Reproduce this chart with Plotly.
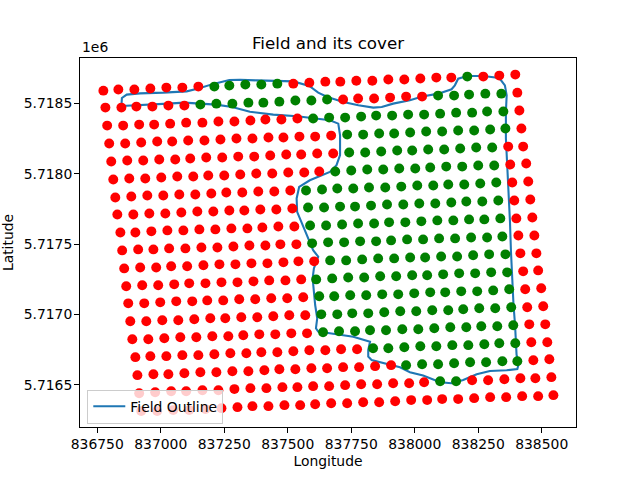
import plotly.graph_objects as go

# Each row of grid cells: longitude, latitude (metres)
lon_rows = [
[836774,836833,836896,836959,837022,837085,837148,837211,837270,837333,837396,837459,837522,837585,837648,837707,837770,837833,837896,837959,838022,838085,838144,838207,838270,838333,838396],
[836782,836845,836904,836967,837030,837093,837156,837219,837282,837345,837404,837467,837530,837593,837655,837718,837777,837840,837903,837966,838029,838092,838155,838214,838278,838341,838404],
[836789,836852,836915,836974,837037,837100,837164,837227,837290,837353,837412,837475,837538,837600,837663,837726,837789,837848,837911,837974,838037,838100,838163,838226,838285,838349,838412],
[836797,836860,836923,836986,837045,837108,837172,837235,837298,837361,837424,837483,837546,837608,837671,837734,837797,837860,837919,837982,838045,838108,838171,838234,838297,838357,838420],
[836805,836868,836931,836994,837057,837116,837179,837242,837305,837368,837431,837494,837553,837616,837679,837742,837805,837868,837931,837990,838053,838116,838179,838242,838305,838368,838427],
[836813,836876,836939,837002,837065,837128,837187,837250,837313,837376,837439,837502,837565,837624,837687,837750,837813,837876,837939,838002,838061,838124,838187,838250,838313,838376,838439],
[836821,836884,836947,837010,837073,837136,837199,837258,837321,837384,837447,837510,837572,837635,837695,837758,837820,837884,837947,838010,838073,838132,838195,838258,838321,838384,838447],
[836829,836892,836955,837018,837081,837144,837207,837270,837329,837392,837455,837518,837580,837643,837706,837765,837828,837891,837955,838018,838081,838144,838203,838266,838329,838392,838455],
[836841,836900,836963,837026,837089,837152,837215,837278,837341,837400,837463,837526,837588,837651,837714,837777,837840,837899,837963,838026,838089,838152,838214,838274,838337,838400,838463],
[836848,836911,836971,837033,837097,837160,837223,837286,837349,837412,837471,837534,837596,837659,837722,837785,837848,837907,837970,838033,838096,838159,838222,838285,838345,838408,838471],
[836856,836919,836982,837041,837104,837168,837231,837294,837357,837420,837483,837542,837604,837667,837730,837793,837856,837919,837982,838041,838104,838167,838230,838293,838357,838416,838479],
[836864,836927,836990,837053,837112,837176,837239,837302,837365,837427,837491,837553,837612,837675,837738,837801,837864,837927,837990,838049,838112,838175,838238,838301,838364,838427,838486],
[836872,836935,836998,837061,837124,837183,837246,837309,837372,837435,837498,837561,837624,837683,837746,837809,837872,837935,837998,838061,838120,838183,838246,838309,838372,838435,838498],
[836880,836943,837006,837069,837132,837195,837254,837317,837380,837443,837506,837569,837632,837695,837754,837817,837880,837943,838006,838069,838132,838191,838254,838317,838380,838443,838506],
[836888,836951,837014,837077,837140,837203,837266,837325,837388,837451,837514,837576,837639,837702,837765,837824,837887,837951,838014,838077,838140,838203,838262,838325,838388,838451,838514],
[836900,836959,837022,837085,837148,837211,837274,837337,837396,837459,837522,837585,837648,837710,837773,837836,837896,837959,838022,838085,838148,838211,838274,838333,838396,838459,838522],
[836908,836971,837030,837093,837156,837219,837282,837345,837408,837467,837530,837593,837655,837718,837781,837844,837907,837966,838029,838092,838155,838218,838281,838345,838404,838467,838530],
[836915,836978,837041,837100,837164,837227,837290,837353,837416,837479,837538,837600,837663,837726,837789,837852,837915,837978,838037,838100,838163,838226,838289,838353,838416,838475,838538],
[836923,836986,837049,837112,837176,837239,837302,837361,837424,837487,837549,837608,837671,837734,837797,837860,837923,837986,838049,838108,838171,838234,838297,838360,838423,838486,838546],
]
lat_rows = [
[5718589,5718597,5718597,5718604,5718611,5718611,5718618,5718618,5718625,5718632,5718632,5718639,5718639,5718646,5718653,5718653,5718660,5718660,5718668,5718668,5718675,5718682,5718682,5718689,5718689,5718696,5718703],
[5718469,5718469,5718476,5718476,5718483,5718483,5718490,5718497,5718497,5718504,5718504,5718511,5718519,5718519,5718526,5718526,5718533,5718533,5718540,5718547,5718547,5718554,5718554,5718561,5718568,5718568,5718575],
[5718341,5718341,5718348,5718348,5718355,5718362,5718362,5718370,5718370,5718377,5718384,5718384,5718391,5718391,5718398,5718398,5718405,5718412,5718412,5718419,5718419,5718426,5718433,5718433,5718441,5718441,5718448],
[5718214,5718214,5718221,5718228,5718228,5718235,5718235,5718242,5718249,5718249,5718256,5718256,5718263,5718263,5718270,5718277,5718277,5718285,5718285,5718292,5718299,5718299,5718306,5718306,5718313,5718320,5718320],
[5718086,5718093,5718093,5718100,5718100,5718107,5718114,5718114,5718121,5718121,5718129,5718136,5718136,5718143,5718143,5718150,5718150,5718157,5718164,5718164,5718171,5718171,5718178,5718185,5718185,5718192,5718192],
[5717958,5717965,5717965,5717972,5717980,5717980,5717987,5717987,5717994,5718001,5718001,5718008,5718008,5718015,5718015,5718022,5718029,5718029,5718036,5718036,5718043,5718050,5718050,5718058,5718058,5718065,5718072],
[5717830,5717838,5717845,5717845,5717852,5717852,5717859,5717866,5717866,5717873,5717873,5717880,5717880,5717887,5717894,5717894,5717901,5717901,5717908,5717916,5717916,5717923,5717923,5717930,5717937,5717937,5717944],
[5717710,5717710,5717717,5717717,5717724,5717731,5717731,5717738,5717738,5717745,5717745,5717752,5717759,5717759,5717766,5717766,5717773,5717781,5717781,5717788,5717788,5717795,5717802,5717802,5717809,5717809,5717816],
[5717582,5717582,5717590,5717597,5717597,5717604,5717604,5717611,5717611,5717618,5717625,5717625,5717632,5717632,5717639,5717646,5717646,5717654,5717654,5717661,5717668,5717668,5717675,5717675,5717682,5717682,5717689],
[5717455,5717462,5717462,5717469,5717469,5717476,5717476,5717483,5717490,5717490,5717498,5717498,5717505,5717512,5717512,5717519,5717519,5717526,5717533,5717533,5717540,5717540,5717547,5717547,5717554,5717561,5717561],
[5717327,5717334,5717334,5717342,5717342,5717349,5717356,5717356,5717363,5717363,5717370,5717377,5717377,5717384,5717384,5717391,5717398,5717398,5717405,5717405,5717412,5717412,5717420,5717427,5717427,5717434,5717434],
[5717200,5717207,5717207,5717214,5717221,5717221,5717228,5717228,5717235,5717242,5717242,5717249,5717249,5717256,5717263,5717263,5717271,5717271,5717278,5717278,5717285,5717292,5717292,5717299,5717299,5717306,5717313],
[5717079,5717079,5717086,5717093,5717093,5717100,5717100,5717108,5717108,5717115,5717115,5717122,5717129,5717129,5717136,5717136,5717143,5717143,5717150,5717157,5717157,5717164,5717164,5717171,5717179,5717179,5717186],
[5716952,5716952,5716959,5716959,5716966,5716973,5716973,5716980,5716980,5716987,5716994,5716994,5717001,5717001,5717008,5717008,5717016,5717023,5717023,5717030,5717030,5717037,5717044,5717044,5717051,5717051,5717058],
[5716824,5716824,5716831,5716838,5716838,5716845,5716845,5716852,5716859,5716859,5716866,5716866,5716874,5716881,5716881,5716888,5716888,5716895,5716895,5716902,5716909,5716909,5716916,5716916,5716923,5716930,5716930],
[5716697,5716704,5716704,5716711,5716711,5716718,5716725,5716725,5716732,5716732,5716739,5716746,5716746,5716753,5716753,5716760,5716760,5716767,5716774,5716774,5716782,5716782,5716789,5716796,5716796,5716803,5716803],
[5716569,5716576,5716576,5716583,5716590,5716590,5716597,5716597,5716604,5716611,5716611,5716618,5716618,5716626,5716626,5716633,5716640,5716640,5716647,5716647,5716654,5716661,5716661,5716668,5716668,5716675,5716682],
[5716441,5716448,5716455,5716455,5716462,5716462,5716470,5716477,5716477,5716484,5716484,5716491,5716491,5716498,5716505,5716505,5716512,5716512,5716519,5716526,5716526,5716533,5716533,5716540,5716547,5716547,5716555],
[5716314,5716314,5716321,5716321,5716328,5716335,5716342,5716349,5716349,5716356,5716356,5716363,5716370,5716370,5716377,5716377,5716384,5716392,5716392,5716399,5716399,5716406,5716413,5716413,5716420,5716420,5716427],
]
# Alternating run lengths along each row: not covered, covered, not covered, ...
cover_runs = [
[7,5,11,1,3],[6,9,6,5,1],[13,13,1],[15,11,1],[15,10,2],[14,11,2],[12,13,2],[12,13,2],[12,13,2],[12,13,2],
[13,12,2],[12,13,2],[12,13,2],[12,13,2],[12,13,2],[15,10,2],[17,8,2],[19,2,6],[27],
]
outline_lon = [836845,836847,836866,836918,837010,837102,837148,837211,837270,837312,837378,837459,837522,837585,837620,837656,837719,837778,837837,837870,837915,837981,838030,838093,838145,838158,838171,838207,838270,838333,838355,838362,838359,838359,838364,838371,838375,838379,838384,838389,838395,838401,838410,838404,838362,838296,838244,838191,838145,838100,838033,837981,837942,837902,837830,837817,837817,837824,837758,837692,837620,837611,837616,837608,837603,837598,837603,837620,837600,837581,837555,837537,837535,837545,837587,837666,837692,837706,837706,837699,837666,837537,837443,837351,837281,837218,837155,837092,837029,836966,836905,836845]
outline_lat = [5718480,5718537,5718561,5718570,5718575,5718584,5718604,5718639,5718665,5718667,5718662,5718660,5718655,5718622,5718575,5718544,5718509,5718485,5718469,5718473,5718497,5718521,5718547,5718568,5718599,5718627,5718674,5718693,5718693,5718679,5718627,5718556,5718438,5718249,5718060,5717870,5717658,5717445,5717209,5717067,5716925,5716713,5716654,5716613,5716604,5716599,5716576,5716535,5716512,5716519,5716566,5716590,5716625,5716642,5716677,5716701,5716748,5716807,5716842,5716859,5716878,5716902,5716973,5717067,5717161,5717257,5717327,5717410,5717457,5717540,5717646,5717729,5717824,5717906,5717953,5718012,5718060,5718131,5718272,5718355,5718379,5718407,5718419,5718439,5718473,5718490,5718497,5718504,5718497,5718490,5718485,5718480]

x_ticks = [836750,837000,837250,837500,837750,838000,838250,838500]
y_ticks = [5716500,5717000,5717500,5718000,5718500]
y_ticklabels = ["5.7165","5.7170","5.7175","5.7180","5.7185"]

red_lon, red_lat, green_lon, green_lat = [], [], [], []
for lons, lats, runs in zip(lon_rows, lat_rows, cover_runs):
    i = 0
    for k, n in enumerate(runs):
        tx, ty = (green_lon, green_lat) if k % 2 else (red_lon, red_lat)
        tx.extend(lons[i:i+n]); ty.extend(lats[i:i+n])
        i += n

FONT = "DejaVu Sans"
fig = go.Figure()
fig.add_trace(go.Scatter(x=outline_lon, y=outline_lat, mode="lines", name="Field Outline",
                         line=dict(color="#1f77b4", width=2.08)))
fig.add_trace(go.Scatter(x=red_lon, y=red_lat, mode="markers", showlegend=False,
                         marker=dict(color="red", size=9.9, line=dict(width=0))))
fig.add_trace(go.Scatter(x=green_lon, y=green_lat, mode="markers", showlegend=False,
                         marker=dict(color="green", size=9.9, line=dict(width=0))))

axis = dict(showgrid=False, zeroline=False, showline=True, mirror=True, linecolor="black", linewidth=1.1,
            ticks="outside", ticklen=4.9, tickwidth=1.1, tickcolor="black", automargin=True)
fig.update_layout(
    width=640, height=480, autosize=False,
    margin=dict(l=80, r=64, t=57.6, b=52.8, pad=0, autoexpand=False),
    paper_bgcolor="white", plot_bgcolor="white",
    font=dict(family=FONT, size=13.9, color="black"),
    title=dict(text="Field and its cover", x=0.5, xanchor="center", xref="paper", y=0.91, yanchor="middle",
               font=dict(size=16.7, family=FONT)),
    xaxis=dict(axis, range=[836682, 838635], tickmode="array", tickvals=x_ticks,
               ticktext=[str(v) for v in x_ticks], ticklabelstandoff=-1,
               title=dict(text="Longitude", standoff=5, font=dict(size=13.9, family=FONT))),
    yaxis=dict(axis, range=[5716201, 5718821], tickmode="array", tickvals=y_ticks,
               ticktext=y_ticklabels, ticklabelstandoff=-1,
               title=dict(text="Latitude", standoff=7, font=dict(size=13.9, family=FONT))),
    legend=dict(x=0.0147, y=0.0087, xanchor="left", yanchor="bottom", bgcolor="rgba(255,255,255,0.8)",
                bordercolor="#cccccc", borderwidth=1, itemwidth=32, font=dict(size=13.9, family=FONT)),
    annotations=[dict(text="1e6", xref="paper", yref="paper", x=0, y=1, xanchor="left", yanchor="bottom",
                      yshift=1, showarrow=False, font=dict(size=13.9, family=FONT))],
)
fig.write_html("out.html", config={"displayModeBar": False}, post_script="document.body.style.margin='0';")
